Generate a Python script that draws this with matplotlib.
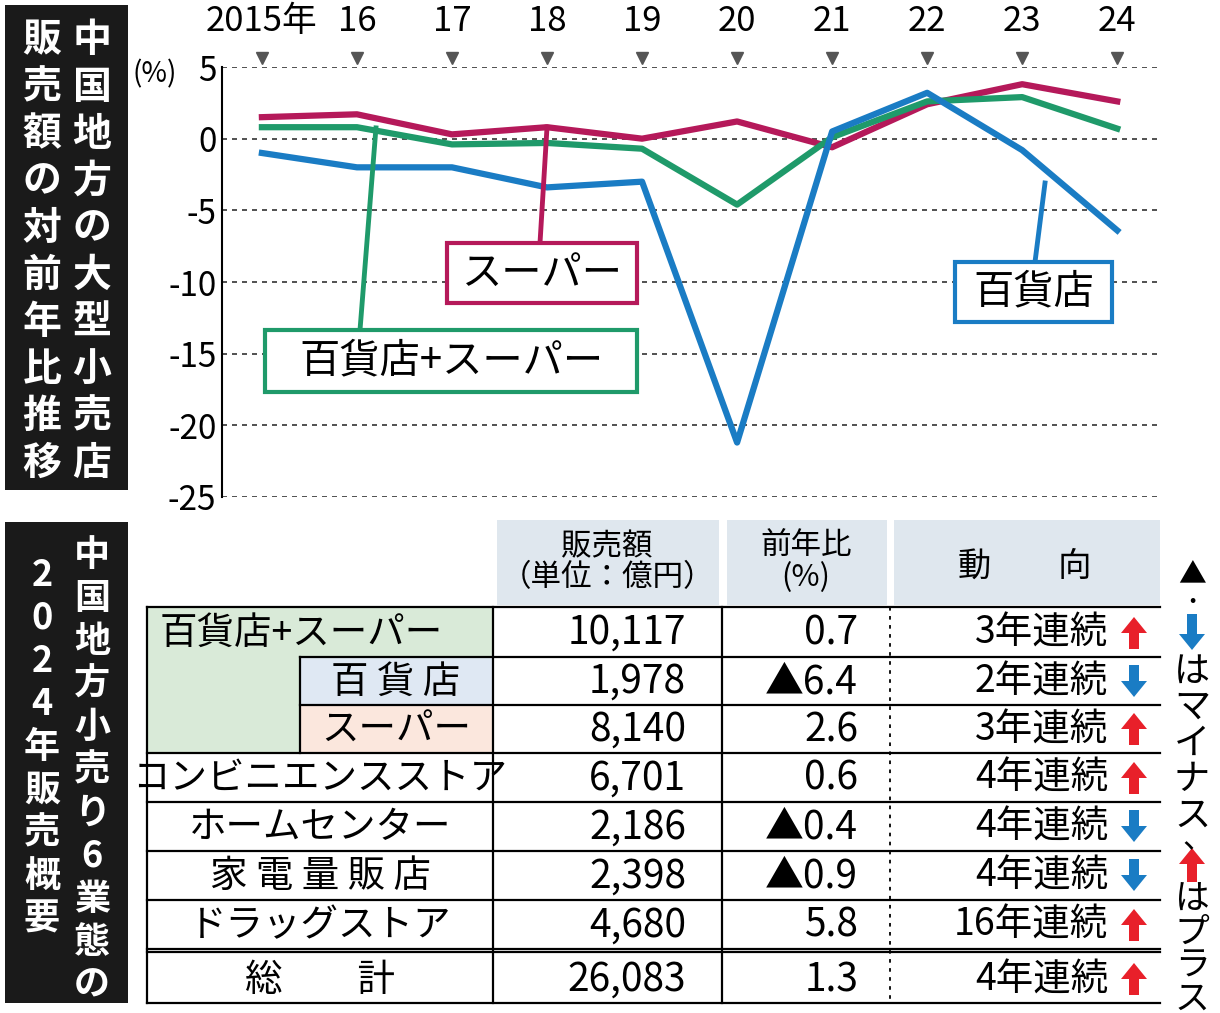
import matplotlib
matplotlib.use("Agg")
import matplotlib.pyplot as plt
from matplotlib.patches import Rectangle, FancyArrow

plt.rcParams["font.family"] = "Noto Sans CJK JP"

years = ["2015年", "16", "17", "18", "19", "20", "21", "22", "23", "24"]
super_v = [1.5, 1.7, 0.3, 0.8, 0.0, 1.2, -0.6, 2.4, 3.8, 2.6]
combined_v = [0.8, 0.8, -0.4, -0.3, -0.7, -4.6, 0.1, 2.6, 2.9, 0.7]
dept_v = [-1.0, -2.0, -2.0, -3.4, -3.0, -21.2, 0.5, 3.2, -0.8, -6.4]

row_names = ["百貨店+スーパー", "百 貨 店", "スーパー", "コンビニエンスストア",
             "ホームセンター", "家 電 量 販 店", "ドラッグストア", "総　　計"]
sales = ["10,117", "1,978", "8,140", "6,701", "2,186", "2,398", "4,680", "26,083"]
yoy = ["0.7", "▲6.4", "2.6", "0.6", "▲0.4", "▲0.9", "5.8", "1.3"]
trend = ["3年連続", "2年連続", "3年連続", "4年連続", "4年連続", "4年連続", "16年連続", "4年連続"]
up = [True, False, True, True, False, False, True, True]

W, H = 1220, 1013
fig = plt.figure(figsize=(W/100, H/100), dpi=100)
CRIM, GRN, BLU = "#b5195a", "#1f9a6a", "#1a7cc4"

ax = fig.add_axes([222/W, 1-497/H, (1160-222)/W, (497-67)/H])
xs = list(range(len(years)))
ax.set_xlim(-0.42, 9.45)
ax.set_ylim(-25, 5)
ax.plot(xs, super_v, color=CRIM, lw=4.5, zorder=3)
ax.plot(xs, combined_v, color=GRN, lw=4.5, zorder=3)
ax.plot(xs, dept_v, color=BLU, lw=4.5, zorder=4)
for y in range(-25, 6, 5):
    ax.axhline(y, color="#333", lw=1.2, ls=(0, (3, 3)), zorder=1)
for s in ["top", "right", "bottom"]:
    ax.spines[s].set_visible(False)
ax.spines["left"].set_linewidth(1.5)
ax.set_yticks(range(-25, 6, 5))
ax.set_yticklabels([str(v) for v in range(-25, 6, 5)], fontsize=24)
ax.tick_params(axis="y", length=0, pad=4)
ax.xaxis.tick_top()
ax.set_xticks(xs)
ax.set_xticklabels(years, fontsize=25)
ax.tick_params(axis="x", length=0, pad=20)
for x in xs:
    ax.plot(x, 5.6, marker="v", color="#555", ms=9, clip_on=False)

ov = fig.add_axes([0, 0, 1, 1])
ov.set_xlim(0, W); ov.set_ylim(H, 0); ov.axis("off")

def pt(i, v):
    disp = ax.transData.transform((i, v))
    return ov.transData.inverted().transform(disp)

ov.text(155, 74, "(%)", fontsize=20, ha="center", va="center")

def label(x0, y0, x1, y1, txt, col, target, lx):
    ov.add_patch(Rectangle((x0, y0), x1-x0, y1-y0, fc="white", ec=col, lw=3, zorder=5))
    ov.text((x0+x1)/2, (y0+y1)/2, txt, fontsize=29, ha="center", va="center", zorder=6)
    tx, ty = target
    ov.plot([lx, tx], [y0, ty], color=col, lw=3.5, zorder=4)

label(447, 243, 637, 303, "スーパー", CRIM, pt(3, super_v[3]), 540)
label(265, 330, 637, 392, "百貨店+スーパー", GRN, pt(1.2, 0.75), 360)
label(955, 262, 1112, 322, "百貨店", BLU, (1045, 183), 1035)

def vtext(x, y0, s, step, size):
    for k, ch in enumerate(s):
        ov.text(x, y0 + k*step, ch, color="white", fontsize=size, ha="center", va="center",
                fontweight="bold", zorder=3)

ov.add_patch(Rectangle((5, 5), 123, 485, fc="#1a1a1a", zorder=2))
vtext(92, 40, "中国地方の大型小売店", 47, 28)
vtext(42, 40, "販売額の対前年比推移", 47, 28)
ov.add_patch(Rectangle((5, 522), 123, 481, fc="#1a1a1a", zorder=2))
vtext(92, 555, "中国地方小売り6業態の", 43, 26)
vtext(42, 575, "2024年販売概要", 43, 26)

hdr_top, hdr_bot = 520, 605
ov.add_patch(Rectangle((497, hdr_top), 222, hdr_bot-hdr_top, fc="#dfe7ee", ec="none"))
ov.add_patch(Rectangle((727, hdr_top), 160, hdr_bot-hdr_top, fc="#dfe7ee", ec="none"))
ov.add_patch(Rectangle((894, hdr_top), 266, hdr_bot-hdr_top, fc="#dfe7ee", ec="none"))
ov.text(607, 562, "販売額\n（単位：億円）", fontsize=22, ha="center", va="center", linespacing=1.0)
ov.text(806, 562, "前年比\n(%)", fontsize=22, ha="center", va="center", linespacing=1.0)
ov.text(1025, 566, "動　　向", fontsize=24, ha="center", va="center")

tops = [607, 657, 705, 753, 802, 851, 900, 955]
bots = [657, 705, 753, 802, 851, 900, 949, 1003]
ov.add_patch(Rectangle((147, 607), 346, 146, fc="#d9ead8", ec="none"))
ov.add_patch(Rectangle((300, 657), 193, 48, fc="#dfe8f3", ec="none"))
ov.add_patch(Rectangle((300, 705), 193, 48, fc="#fbe7dd", ec="none"))
lw = 1.6
ov.plot([147, 1160], [607, 607], color="k", lw=lw)
for i in range(8):
    t, b = tops[i], bots[i]
    yc = (t+b)/2 + 1
    if i == 0:
        ov.plot([300, 1160], [b, b], color="k", lw=lw)
    elif i == 1:
        ov.plot([300, 1160], [b, b], color="k", lw=lw)
    else:
        ov.plot([147, 1160], [b, b], color="k", lw=lw)
    if i == 0:
        ov.text(160, yc, row_names[i], fontsize=27, ha="left", va="center")
    elif i in (1, 2):
        ov.text(396, yc, row_names[i], fontsize=27, ha="center", va="center")
    elif i == 7:
        ov.text(320, yc, row_names[i], fontsize=27, ha="center", va="center")
    else:
        ov.text(320, yc, row_names[i], fontsize=27, ha="center", va="center")
    ov.text(686, yc, sales[i], fontsize=28, ha="right", va="center")
    ov.text(858, yc, yoy[i], fontsize=28, ha="right", va="center")
    ov.text(1108, yc, trend[i], fontsize=27, ha="right", va="center")
    axx = 1134
    if up[i]:
        ov.add_patch(FancyArrow(axx, b-8, 0, -32, width=10, head_width=26, head_length=16,
                                fc="#e8202a", ec="none", length_includes_head=True))
    else:
        ov.add_patch(FancyArrow(axx, t+8, 0, 32, width=10, head_width=26, head_length=16,
                                fc="#1a7cc4", ec="none", length_includes_head=True))
ov.plot([147, 1160], [952, 952], color="k", lw=lw)
ov.plot([147, 147], [607, 1003], color="k", lw=lw)
ov.plot([300, 300], [657, 753], color="k", lw=lw)
for x in (493, 722):
    ov.plot([x, x], [607, 1003], color="k", lw=lw)
ov.plot([890, 890], [607, 1003], color="k", lw=1.3, ls=(0, (2, 3)))

ov.text(1192, 575, "▲", fontsize=20, ha="center", va="center")
ov.text(1192, 602, "・", fontsize=16, ha="center", va="center")
ov.add_patch(FancyArrow(1192, 614, 0, 36, width=10, head_width=26, head_length=16,
                        fc="#1a7cc4", ec="none", length_includes_head=True))
for k, ch in enumerate("はマイナス"):
    ov.text(1192, 672 + k*36, ch, fontsize=26, ha="center", va="center")
ov.text(1198, 840, "、", fontsize=22, ha="center", va="center")
ov.add_patch(FancyArrow(1192, 882, 0, -34, width=10, head_width=26, head_length=16,
                        fc="#e8202a", ec="none", length_includes_head=True))
for k, ch in enumerate("はプラス"):
    ov.text(1192, 900 + k*33, ch, fontsize=25, ha="center", va="center")

fig.savefig("out.png", dpi=100, facecolor="white")
